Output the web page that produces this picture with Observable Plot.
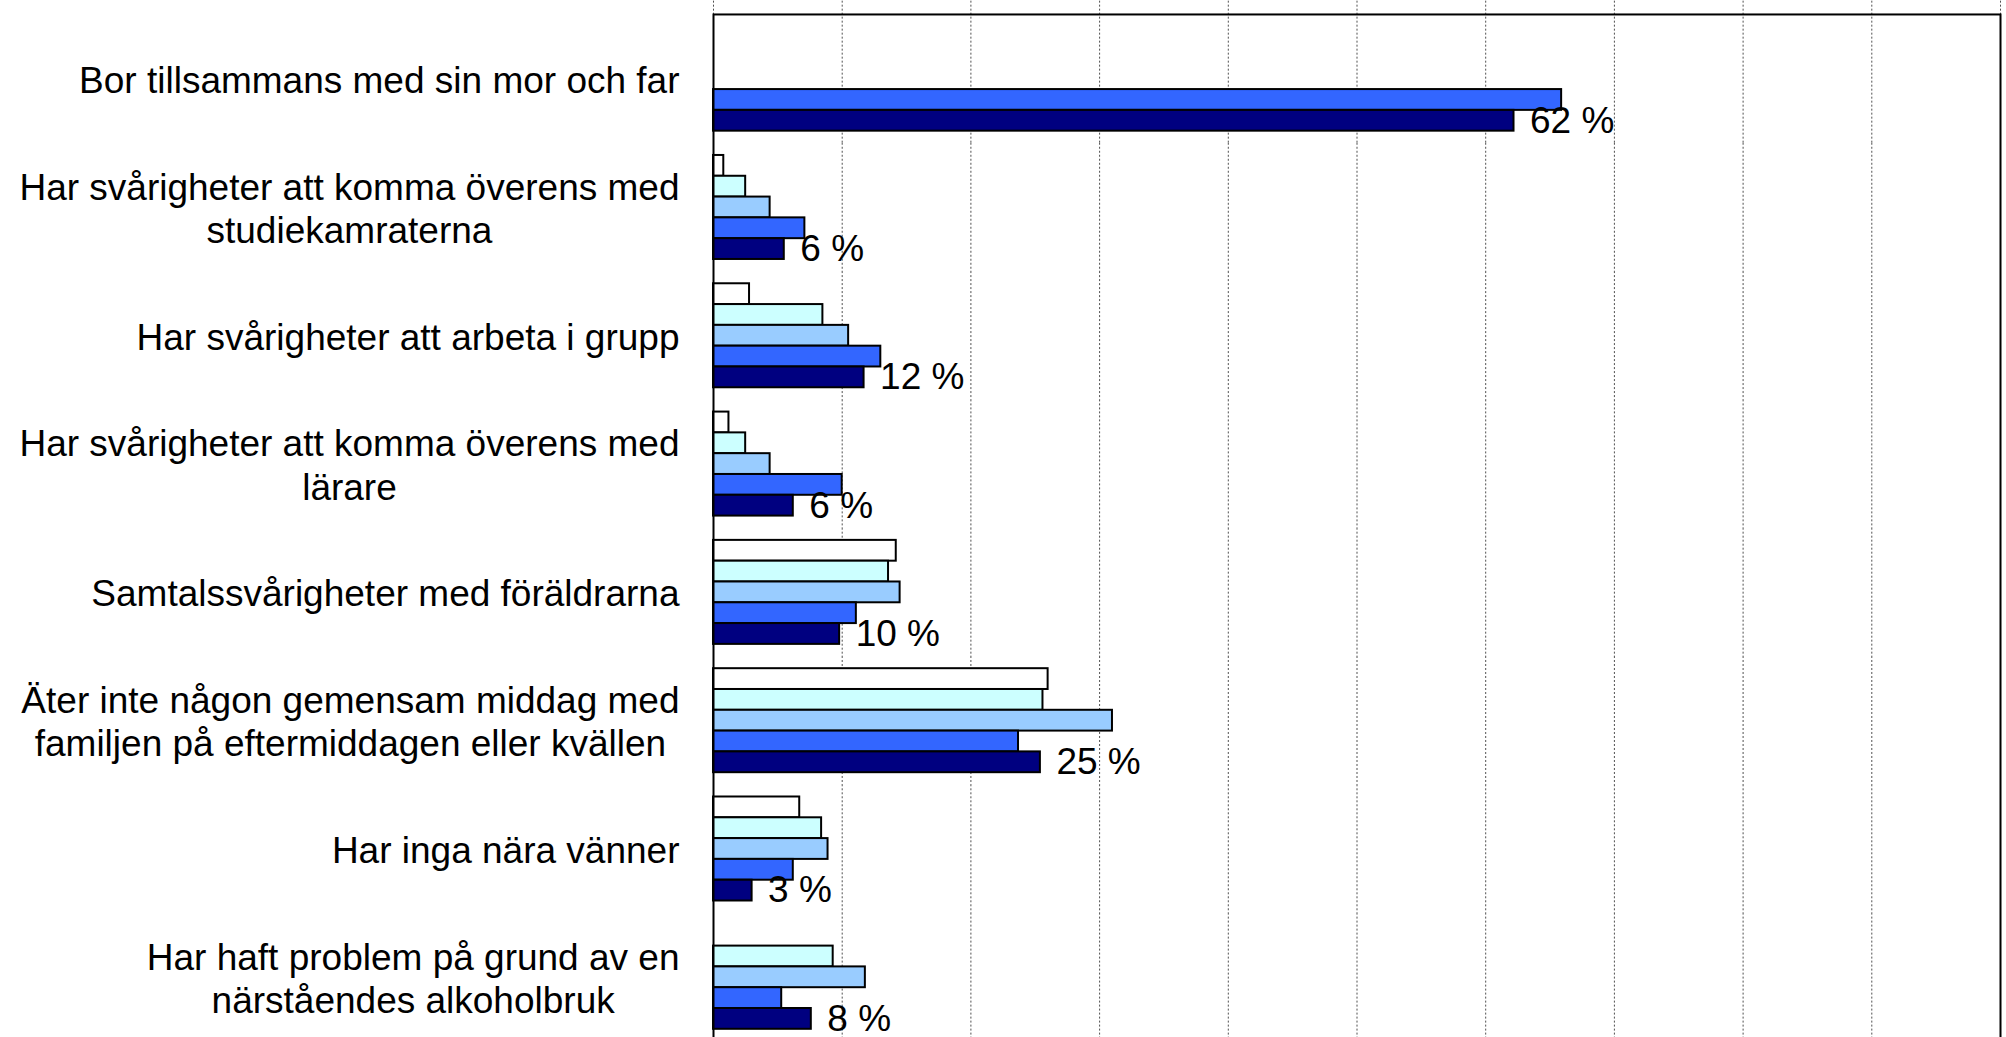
<!DOCTYPE html>
<html>
<head>
<meta charset="utf-8">
<script src="https://cdn.jsdelivr.net/npm/d3@7"></script>
<script src="https://cdn.jsdelivr.net/npm/@observablehq/plot@0.6"></script>
<style>
  html, body { margin: 0; padding: 0; background: white; }
  #chart svg { display: block; }
</style>
</head>
<body>
<div id="chart"></div>
<script>
const categories = [
  "Bor tillsammans med sin mor och far",
  "Har svårigheter att komma överens med\nstudiekamraterna",
  "Har svårigheter att arbeta i grupp",
  "Har svårigheter att komma överens med\nlärare",
  "Samtalssvårigheter med föräldrarna",
  "Äter inte någon gemensam middag med\nfamiljen på eftermiddagen eller kvällen",
  "Har inga nära vänner",
  "Har haft problem på grund av en\nnärståendes alkoholbruk"
];
const seriesNames = ["Serie 1", "Serie 2", "Serie 3", "Serie 4", "Serie 5"];
const serie1 = [null, 0.8, 2.8, 1.2, 14.2, 26.0, 6.7, null];
const serie2 = [null, 2.5, 8.5, 2.5, 13.6, 25.6, 8.4, 9.3];
const serie3 = [null, 4.4, 10.5, 4.4, 14.5, 31.0, 8.9, 11.8];
const serie4 = [65.9, 7.1, 13.0, 10.0, 11.1, 23.7, 6.2, 5.3];
const serie5 = [62.2, 5.5, 11.7, 6.2, 9.8, 25.4, 3.0, 7.6];
const valueLabels = ["62 %", "6 %", "12 %", "6 %", "10 %", "25 %", "3 %", "8 %"];
const seriesColors = ["#FFFFFF", "#CCFFFF", "#99CCFF", "#3366FF", "#000080"];
const gridTicks = [0, 10, 20, 30, 40, 50, 60, 70, 80, 90, 100];

const seriesValues = [serie1, serie2, serie3, serie4, serie5];
const rows = [];
categories.forEach((c, i) => seriesNames.forEach((s, j) => {
  const v = seriesValues[j][i];
  if (v != null) rows.push({category: c, series: s, value: v});
}));
const labelRows = categories.map((c, i) => ({category: c, series: seriesNames[4], value: serie5[i], label: valueLabels[i]}));
const gridRows = categories.flatMap((c, i) => gridTicks.map(t => ({category: c, tick: t, idx: i})));
const last = categories.length - 1;

const FONT = "'Liberation Sans', Arial, sans-serif";
const ctx = document.createElement("canvas").getContext("2d");
ctx.font = "37px " + FONT;
const blockWidth = c => d3.max(c.split("\n"), l => ctx.measureText(l).width);

const gridStyle = {fy: "category", x: "tick", stroke: "#505050", strokeWidth: 1, strokeDasharray: "2,2"};
const halfGap = 12.2;

const chart = Plot.plot({
  width: 2006,
  height: 1037,
  marginLeft: 713,
  marginRight: 6,
  marginTop: 14,
  marginBottom: 0,
  style: {fontFamily: FONT, fontSize: "37px", background: "white", color: "black"},
  x: {domain: [0, 100], axis: null},
  y: {domain: seriesNames, padding: 0, axis: null, round: false},
  fy: {domain: categories, paddingInner: 0.1894, paddingOuter: 0.0813, align: 0.607, axis: null, round: false},
  color: {domain: seriesNames, range: seriesColors},
  marks: [
    Plot.ruleX(gridRows.filter(d => d.idx === 0), {...gridStyle, insetTop: -26, insetBottom: -halfGap}),
    Plot.ruleX(gridRows.filter(d => d.idx > 0 && d.idx < last), {...gridStyle, insetTop: -halfGap, insetBottom: -halfGap}),
    Plot.ruleX(gridRows.filter(d => d.idx === last), {...gridStyle, insetTop: -halfGap, insetBottom: -10}),
    Plot.barX(rows, {fy: "category", y: "series", x: "value", fill: "series", stroke: "black", strokeWidth: 2}),
    Plot.frame({stroke: "black", strokeWidth: 2, insetTop: -12.7, insetBottom: -15, facet: "super"}),
    Plot.text(labelRows, {fy: "category", y: "series", x: "value", text: "label", dx: 16, textAnchor: "start", fontSize: 37, fill: "black"}),
    ...categories.map(c => Plot.text([c], {
      fy: d => d, text: d => d, frameAnchor: "left", textAnchor: "middle",
      dx: -(34 + blockWidth(c) / 2), lineHeight: 1.17, fontSize: 37, fill: "black"
    }))
  ]
});
document.getElementById("chart").appendChild(chart);
</script>
</body>
</html>
